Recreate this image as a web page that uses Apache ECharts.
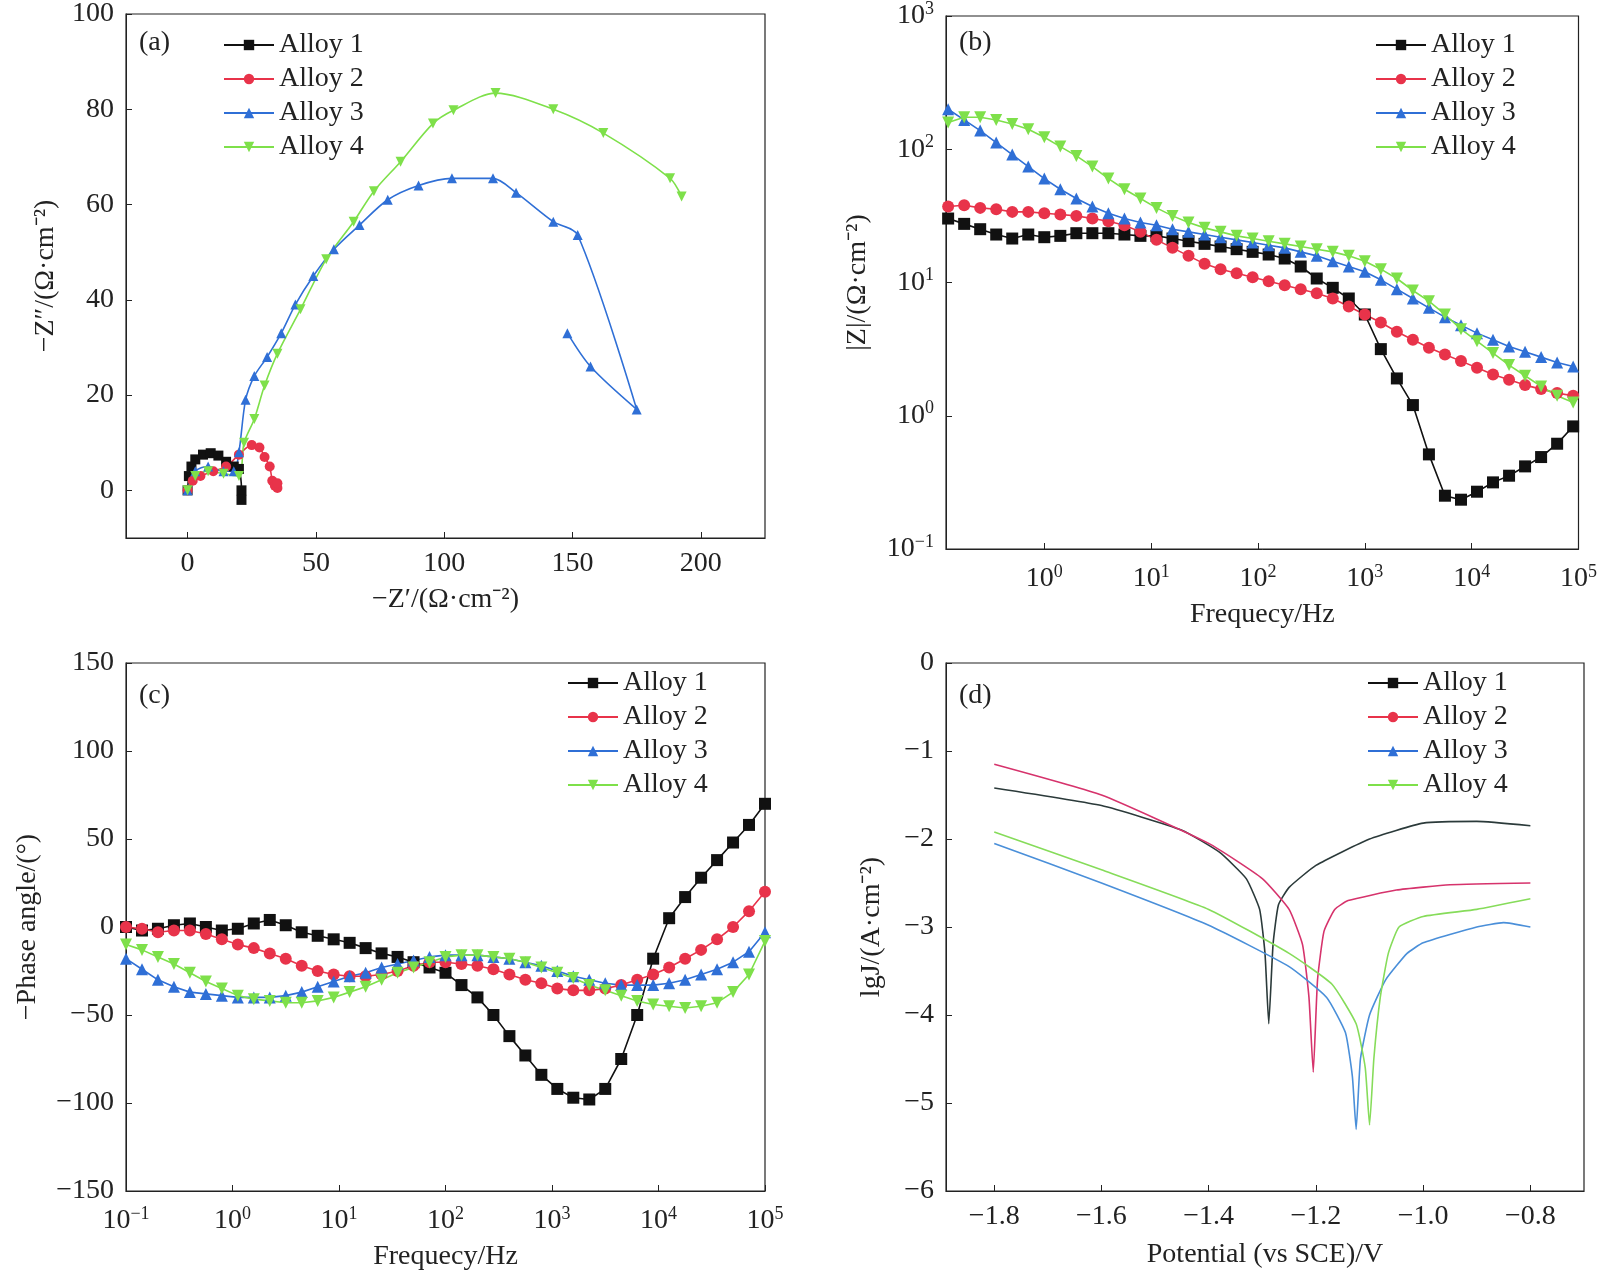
<!DOCTYPE html>
<html><head><meta charset="utf-8">
<script src="https://cdn.jsdelivr.net/npm/echarts@6/dist/echarts.min.js"></script>
<style>html,body{margin:0;background:#fff}#c{width:1600px;height:1283px}</style></head>
<body><div id="c"></div>
<script>
const names=['Alloy 1','Alloy 2','Alloy 3','Alloy 4'];
const colors=['#111111','#e8334a','#2f6fd6','#7ee04a'];
const lineColorsD=['#2b3a3a','#d6336c','#4a8fd9','#86dc5a'];
// (a) Nyquist [Z', Z'']
const nyq1=[[0,0],[0.5,3],[1.5,5],[3,6.5],[6,7.5],[9,7.8],[12,7.3],[15,6],[18,5],[20,4.5],[21,0],[21,-2]];
const nyq2=[[0,0],[2,2],[5,3],[10,4],[15,5],[20,7.5],[25,9.5],[28,9],[30,7],[32,5],[33,2],[34,1],[35,0.5],[35,1.5]];
const nyq3=[[0,0],[3,4],[8,5],[14,4],[18,4],[20,8],[22.6,19],[26,24],[31,28],[36.5,33],[42,39],[49,45],[57,50.6],[67,55.7],[78,61],[90,64],[103,65.5],[119,65.5],[128,62.5],[142.5,56.4],[152,53.6],[175,17],[157,26],[148,33]];
const nyq4=[[0,0],[3,3],[8,4],[14,3.5],[20,3],[22,10],[26,15],[30,22],[35,28.7],[44,38],[54,48.5],[64.7,56.4],[72.6,62.8],[83,69],[95.6,77],[103.6,79.8],[120,83.4],[142.5,80],[162,75],[188,65.5],[192.5,61.7]];
// (b) Bode |Z|: log10 frequency and log10 |Z|
const logFb=[-0.9,-0.75,-0.6,-0.45,-0.3,-0.15,0,0.15,0.3,0.45,0.6,0.75,0.9,1.05,1.2,1.35,1.5,1.65,1.8,1.95,2.1,2.25,2.4,2.55,2.7,2.85,3,3.15,3.3,3.45,3.6,3.75,3.9,4.05,4.2,4.35,4.5,4.65,4.8,4.95];
const logZ1=[1.48,1.44,1.40,1.36,1.33,1.36,1.34,1.35,1.37,1.37,1.37,1.36,1.35,1.35,1.33,1.31,1.29,1.27,1.25,1.23,1.21,1.18,1.12,1.03,0.96,0.88,0.76,0.5,0.28,0.08,-0.29,-0.6,-0.63,-0.57,-0.5,-0.45,-0.38,-0.31,-0.21,-0.08];
const logZ2=[1.57,1.58,1.56,1.55,1.53,1.53,1.52,1.51,1.50,1.48,1.46,1.43,1.38,1.32,1.26,1.20,1.14,1.10,1.07,1.04,1.01,0.98,0.95,0.92,0.88,0.82,0.76,0.70,0.63,0.57,0.51,0.46,0.41,0.36,0.31,0.27,0.23,0.2,0.17,0.15];
const logZ3=[2.3,2.22,2.14,2.05,1.96,1.87,1.78,1.70,1.63,1.57,1.52,1.48,1.45,1.43,1.40,1.38,1.36,1.34,1.32,1.30,1.28,1.26,1.23,1.20,1.16,1.12,1.08,1.02,0.95,0.88,0.81,0.74,0.68,0.62,0.57,0.52,0.48,0.44,0.40,0.37];
const logZ4=[2.2,2.24,2.24,2.22,2.19,2.15,2.09,2.02,1.95,1.87,1.78,1.70,1.63,1.56,1.50,1.45,1.41,1.38,1.35,1.33,1.31,1.29,1.27,1.25,1.23,1.20,1.16,1.10,1.03,0.94,0.86,0.76,0.65,0.56,0.47,0.38,0.30,0.22,0.15,0.1];
// (c) phase angle
const logFc=[-1,-0.85,-0.7,-0.55,-0.4,-0.25,-0.1,0.05,0.2,0.35,0.5,0.65,0.8,0.95,1.1,1.25,1.4,1.55,1.7,1.85,2,2.15,2.3,2.45,2.6,2.75,2.9,3.05,3.2,3.35,3.5,3.65,3.8,3.95,4.1,4.25,4.4,4.55,4.7,4.85,5];
const ph1=[0,-2,-1,1,2,0,-2,-1,2,4,1,-3,-5,-7,-9,-12,-15,-17,-20,-23,-26,-33,-40,-50,-62,-73,-84,-92,-97,-98,-92,-75,-50,-18,5,17,28,38,48,58,70];
const ph2=[0,-1,-3,-2,-2,-4,-7,-10,-12,-15,-18,-22,-25,-27,-28,-28,-27,-25,-22,-20,-20,-21,-22,-24,-27,-30,-32,-35,-36,-36,-35,-33,-30,-27,-23,-18,-13,-7,0,9,20];
const ph3=[-18,-24,-30,-34,-37,-38,-39,-40,-40,-40,-39,-37,-34,-31,-28,-26,-23,-21,-19,-17,-16,-16,-16,-17,-18,-20,-22,-25,-28,-30,-32,-33,-33,-33,-32,-30,-27,-24,-20,-14,-3];
const ph4=[-10,-13,-17,-21,-26,-31,-35,-39,-41,-42,-43,-43,-42,-40,-37,-34,-30,-26,-23,-20,-17,-16,-16,-17,-18,-20,-23,-26,-29,-33,-36,-39,-42,-44,-45,-46,-45,-43,-37,-27,-8];
// (d) polarization [E, lgJ]
const pol1=[[-1.8,-1.42],[-1.6,-1.62],[-1.45,-1.9],[-1.38,-2.15],[-1.33,-2.45],[-1.305,-2.8],[-1.295,-3.3],[-1.288,-4.1],[-1.28,-3.2],[-1.27,-2.75],[-1.25,-2.55],[-1.2,-2.3],[-1.1,-2.0],[-1.0,-1.82],[-0.9,-1.8],[-0.8,-1.85]];
const pol2=[[-1.8,-1.15],[-1.6,-1.5],[-1.4,-2.05],[-1.3,-2.45],[-1.25,-2.8],[-1.225,-3.2],[-1.213,-3.8],[-1.205,-4.65],[-1.197,-3.6],[-1.185,-3.05],[-1.165,-2.8],[-1.14,-2.7],[-1.05,-2.58],[-0.95,-2.52],[-0.8,-2.5]];
const pol3=[[-1.8,-2.05],[-1.6,-2.5],[-1.4,-2.98],[-1.25,-3.45],[-1.18,-3.8],[-1.145,-4.2],[-1.132,-4.7],[-1.125,-5.3],[-1.117,-4.5],[-1.1,-4.0],[-1.07,-3.6],[-1.03,-3.3],[-1.0,-3.18],[-0.9,-3.0],[-0.85,-2.95],[-0.8,-3.0]];
const pol4=[[-1.8,-1.92],[-1.6,-2.35],[-1.4,-2.8],[-1.25,-3.3],[-1.17,-3.65],[-1.125,-4.1],[-1.108,-4.6],[-1.1,-5.25],[-1.092,-4.5],[-1.08,-3.8],[-1.065,-3.3],[-1.045,-3.0],[-1.0,-2.88],[-0.9,-2.8],[-0.8,-2.68]];

const F='Liberation Serif';
const tx={fontFamily:F,fontSize:28,color:'#222'};
const symbols=['rect','circle','triangle','triangle'];
const rot=[0,0,0,180];
const zip=(xs,ys)=>xs.map((x,i)=>[x,ys[i]]);
const pow={formatter:v=>'10{s|'+(v<0?'−'+(-v):v)+'}',rich:{s:{fontFamily:F,fontSize:18,verticalAlign:'top',padding:[0,0,14,0]}}};
function ax(extra){return Object.assign({type:'value',axisLine:{onZero:false,lineStyle:{color:'#222'}},axisTick:{inside:true,length:6,lineStyle:{color:'#222'}},splitLine:{show:false},axisLabel:Object.assign({},tx,{margin:12}),nameTextStyle:Object.assign({},tx),nameLocation:'middle'},extra);}
const grids=[
 {left:126,top:10,width:639,height:528},
 {left:946,top:10,width:638,height:539},
 {left:126,top:663,width:639,height:528},
 {left:946,top:663,width:638,height:528}];
grids.forEach(g=>{g.show=true;g.borderColor='#222';g.borderWidth=1.2;});
const xAxis=[
 ax({gridIndex:0,min:-24,max:225,name:'−Z′/(Ω·cm⁻²)',nameGap:48,axisLabel:Object.assign({},tx,{margin:12,customValues:[0,50,100,150,200]}),axisTick:{inside:true,length:6,customValues:[0,50,100,150,200]}}),
 ax({gridIndex:1,min:-0.92,max:5,name:'Frequecy/Hz',nameGap:52,axisLabel:Object.assign({},tx,pow,{margin:14,customValues:[0,1,2,3,4,5]}),axisTick:{inside:true,length:6,customValues:[0,1,2,3,4,5]}}),
 ax({gridIndex:2,min:-1,max:5,interval:1,name:'Frequecy/Hz',nameGap:52,axisLabel:Object.assign({},tx,pow,{margin:14})}),
 ax({gridIndex:3,min:-1.89,max:-0.7,name:'Potential (vs SCE)/V',nameGap:50,axisLabel:Object.assign({},tx,{margin:12,customValues:[-1.8,-1.6,-1.4,-1.2,-1.0,-0.8],formatter:v=>(v.toFixed(1)).replace('-','−')}),axisTick:{inside:true,length:6,customValues:[-1.8,-1.6,-1.4,-1.2,-1.0,-0.8]}})];
const yAxis=[
 ax({gridIndex:0,min:-10,max:100,name:'−Z″/(Ω·cm⁻²)',nameGap:66,axisLabel:Object.assign({},tx,{margin:12,customValues:[0,20,40,60,80,100]}),axisTick:{inside:true,length:6,customValues:[0,20,40,60,80,100]}}),
 ax({gridIndex:1,min:-1,max:3,interval:1,name:'|Z|/(Ω·cm⁻²)',nameGap:74,axisLabel:Object.assign({},tx,pow,{margin:12})}),
 ax({gridIndex:2,min:-150,max:150,interval:50,name:'−Phase angle/(°)',nameGap:84,axisLabel:Object.assign({},tx,{margin:12,formatter:v=>String(v).replace('-','−')})}),
 ax({gridIndex:3,min:-6,max:0,interval:1,name:'lgJ/(A·cm⁻²)',nameGap:60,axisLabel:Object.assign({},tx,{margin:12,formatter:v=>String(v).replace('-','−')})})];
const sets=[[nyq1,nyq2,nyq3,nyq4],
 [zip(logFb,logZ1),zip(logFb,logZ2),zip(logFb,logZ3),zip(logFb,logZ4)],
 [zip(logFc,ph1),zip(logFc,ph2),zip(logFc,ph3),zip(logFc,ph4)],
 [pol1,pol2,pol3,pol4]];
const series=[];
sets.forEach((s,p)=>s.forEach((d,i)=>{
 const isD=p===3;
 series.push({type:'line',name:names[i],xAxisIndex:p,yAxisIndex:p,data:d,
  smooth:isD?0.15:(p===0?0.3:false),
  showSymbol:!isD,symbol:isD?'none':symbols[i],symbolRotate:rot[i],symbolSize:p===0?10:12,
  itemStyle:{color:isD?lineColorsD[i]:colors[i]},
  lineStyle:{color:isD?lineColorsD[i]:colors[i],width:1.6},clip:true,animation:false});
}));
const legPos=[{left:218,top:26},{left:1370,top:26},{left:562,top:664},{left:1362,top:664}];
const legend=legPos.map((p,k)=>Object.assign({data:names,orient:'vertical',itemGap:6,itemWidth:50,itemHeight:13,textStyle:Object.assign({},tx),selectedMode:false},p));
const panels=['(a)','(b)','(c)','(d)'];
const title=panels.map((t,i)=>({text:t,left:grids[i].left+8,top:grids[i].top+14,textStyle:Object.assign({},tx,{fontWeight:'normal'})}));
const chart=echarts.init(document.getElementById('c'));
chart.setOption({backgroundColor:'#fff',animation:false,title,grid:grids,xAxis,yAxis,legend,series});
</script></body></html>
